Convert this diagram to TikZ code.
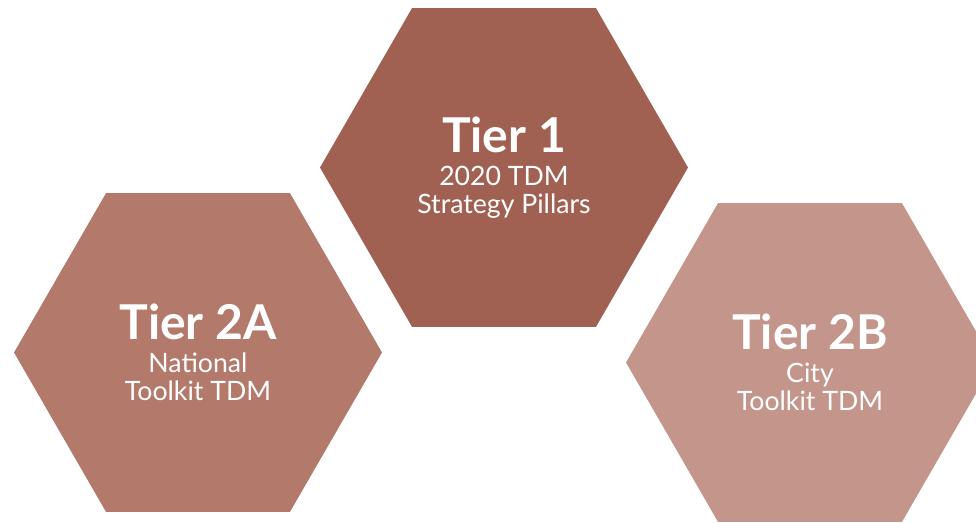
\documentclass[tikz,border=0pt]{standalone}
\usepackage{fontspec}
\setmainfont{Lato}
\usetikzlibrary{shapes.geometric}
\definecolor{tierone}{HTML}{A16152}
\definecolor{tiertwoa}{HTML}{B3796B}
\definecolor{tiertwob}{HTML}{C4958A}
\newcommand{\tiertext}[3]{{\fontsize{36}{26}\selectfont\bfseries #1}\\[4pt]#2\\#3}

\begin{document}
\begin{tikzpicture}[x=0.75pt,y=-0.75pt,
    hexa/.style={regular polygon, regular polygon sides=6, minimum size=276pt,
      inner sep=0pt, outer sep=0pt, text=white, align=center,
      font=\fontsize{20}{21}\selectfont}]
  \useasboundingbox (0,0) rectangle (976,522);
  \clip (0,0) rectangle (976,522);
  % top hexagon
  \node [hexa, fill=tierone] (tier1) at (504,167.5) {\tiertext{Tier 1}{2020 TDM}{Strategy Pillars}};
  % lower hexagons
  \node [hexa, fill=tiertwoa] (tier2a) at (198,352.5) {\tiertext{Tier 2A}{National}{Toolkit TDM}};
  \node [hexa, fill=tiertwob] (tier2b) at (810,362.5) {\tiertext{Tier 2B}{City}{Toolkit TDM}};
\end{tikzpicture}
\end{document}
